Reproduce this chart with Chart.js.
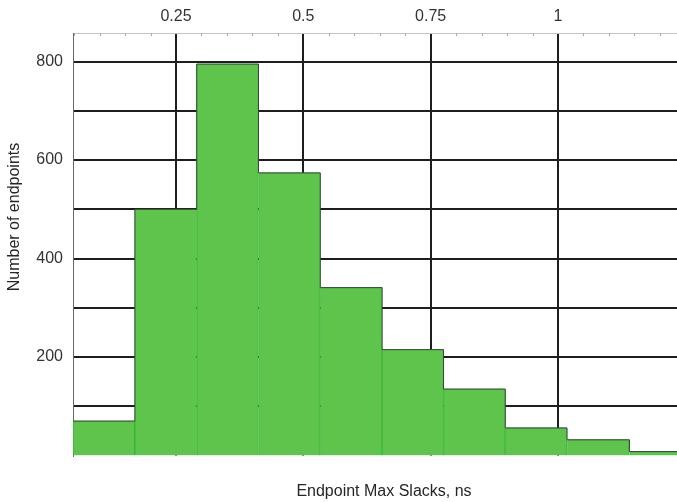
<!DOCTYPE html>
<html>
<head>
<meta charset="utf-8">
<script src="https://cdn.jsdelivr.net/npm/chart.js@4/dist/chart.umd.min.js"></script>
<style>
  html, body { margin: 0; padding: 0; background: #ffffff; }
  #wrap { width: 677px; height: 502px; }
</style>
</head>
<body>
<div id="wrap"><canvas id="c" width="677" height="502"></canvas></div>
<script>
// Histogram bins (slack in ns) and endpoint counts per bin
const binEdges = [0.0478, 0.1692, 0.2906, 0.4120, 0.5334, 0.6548, 0.7752, 0.8966, 1.0178, 1.1404, 1.2618];
const counts = [70, 500, 795, 574, 341, 215, 135, 56, 32, 8];

// Axis ticks
const xTickValues = [0.25, 0.5, 0.75, 1];
const xTickLabels = ['0.25', '0.5', '0.75', '1'];
const xMinorTicks = [0.05, 0.1, 0.15, 0.2, 0.3, 0.35, 0.4, 0.45, 0.55, 0.6, 0.65, 0.7, 0.8, 0.85, 0.9, 0.95, 1.05, 1.1, 1.15, 1.2];
const yGridValues = [100, 200, 300, 400, 500, 600, 700, 800];
const yTickLabels = { 200: '200', 400: '400', 600: '600', 800: '800' };

const xTitle = 'Endpoint Max Slacks, ns';
const yTitle = 'Number of endpoints';

const FONT = '"Liberation Sans", Arial, sans-serif';

const barPoints = counts.map((v, i) => ({ x: (binEdges[i] + binEdges[i + 1]) / 2, y: v }));
const outlinePoints = counts.map((v, i) => ({ x: binEdges[i], y: v }));
outlinePoints.push({ x: binEdges[binEdges.length - 1], y: counts[counts.length - 1] });

// Small inward minor tick marks on the top axis, plus the two axis titles
const decorations = {
  id: 'decorations',
  afterDatasetsDraw(chart) {
    const { ctx, chartArea, scales } = chart;
    ctx.save();
    ctx.strokeStyle = '#a8a8a8';
    ctx.lineWidth = 1;
    xMinorTicks.forEach(v => {
      const px = Math.round(scales.x.getPixelForValue(v)) + 0.5;
      if (px < chartArea.left || px > chartArea.right) return;
      ctx.beginPath();
      ctx.moveTo(px, chartArea.top);
      ctx.lineTo(px, chartArea.top + 3);
      ctx.stroke();
    });
    ctx.restore();
  },
  afterDraw(chart) {
    const { ctx } = chart;
    ctx.save();
    ctx.fillStyle = '#262626';
    ctx.font = '16px ' + FONT;
    ctx.textAlign = 'center';
    ctx.textBaseline = 'middle';
    ctx.fillText(xTitle, 384, 492);
    ctx.translate(15, 217);
    ctx.rotate(-Math.PI / 2);
    ctx.fillText(yTitle, 0, 0);
    ctx.restore();
  }
};

new Chart(document.getElementById('c'), {
  type: 'bar',
  data: {
    datasets: [
      {
        type: 'line',
        data: outlinePoints,
        stepped: 'before',
        borderColor: '#37473a',
        borderWidth: 1,
        pointRadius: 0,
        fill: false,
        order: 0
      },
      {
        type: 'bar',
        data: barPoints,
        backgroundColor: '#5ec44c',
        borderColor: '#38b834',
        borderWidth: 1,
        barPercentage: 1.0,
        categoryPercentage: 1.0,
        grouped: false,
        order: 1
      }
    ]
  },
  options: {
    responsive: false,
    animation: false,
    layout: { padding: { left: 0, right: 0, top: 0, bottom: 46.5 } },
    plugins: {
      legend: { display: false },
      tooltip: { enabled: false },
      title: { display: false }
    },
    scales: {
      x: {
        type: 'linear',
        position: 'top',
        offset: false,
        min: binEdges[0],
        max: 1.2337,
        afterBuildTicks(scale) {
          scale.ticks = xTickValues.map(v => ({ value: v }));
        },
        afterFit(scale) { scale.height = 33; },
        ticks: {
          includeBounds: false,
          autoSkip: false,
          maxRotation: 0,
          padding: 7,
          color: '#333333',
          font: { family: FONT, size: 16 },
          callback(value) {
            const i = xTickValues.indexOf(value);
            return i >= 0 ? xTickLabels[i] : '';
          }
        },
        grid: {
          offset: false,
          color: '#1e1e1e',
          lineWidth: 2,
          drawTicks: false
        },
        border: { display: true, color: '#c4c4c4', width: 1 }
      },
      y: {
        type: 'linear',
        position: 'left',
        min: 0,
        max: 858,
        afterBuildTicks(scale) {
          scale.ticks = yGridValues.map(v => ({ value: v }));
        },
        afterFit(scale) { scale.width = 73; },
        ticks: {
          autoSkip: false,
          padding: 10,
          color: '#333333',
          font: { family: FONT, size: 16 },
          callback(value) { return yTickLabels[value] || ''; }
        },
        grid: {
          color: '#1e1e1e',
          lineWidth: 2,
          drawTicks: false
        },
        border: { display: true, color: '#6a6a6a', width: 1 }
      }
    }
  },
  plugins: [decorations]
});
</script>
</body>
</html>
